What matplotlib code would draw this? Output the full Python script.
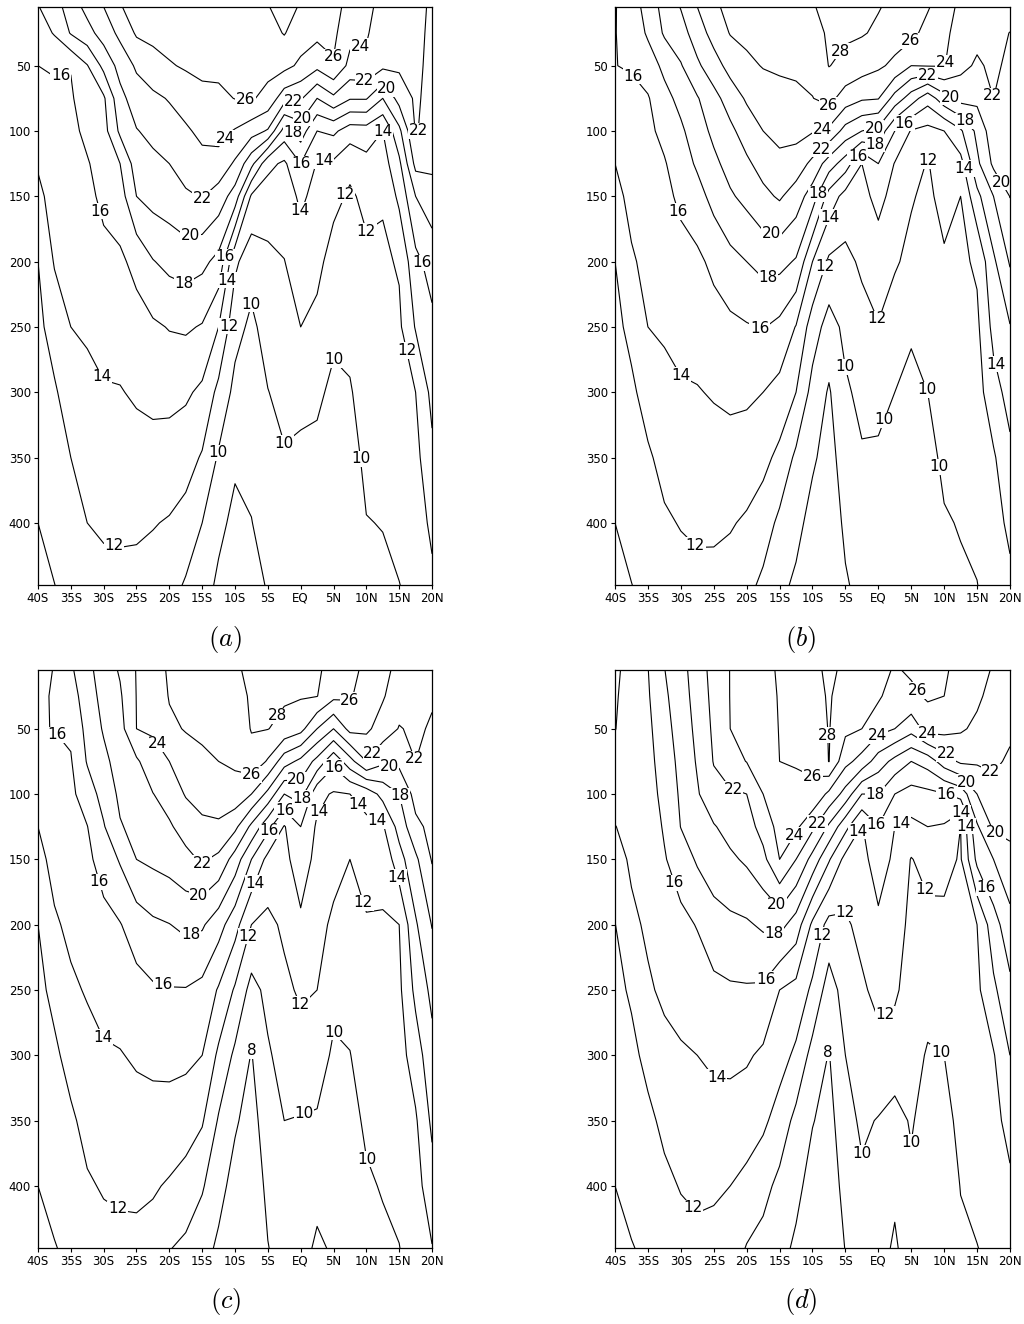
import numpy as np
import matplotlib
matplotlib.use("Agg")
import matplotlib.pyplot as plt

plt.rcParams['mathtext.fontset'] = 'cm'

# grid: latitude (deg, S negative) and depth (m)
lats = [-40, -37.5, -35, -32.5, -30, -27.5, -25, -22.5, -20, -17.5, -15, -12.5, -10,
        -7.5, -5, -2.5, 0, 2.5, 5, 7.5, 10, 12.5, 15, 17.5, 20]
depths = [5, 25, 50, 75, 100, 125, 150, 200, 250, 300, 350, 400, 450]
levels = [8, 10, 12, 14, 16, 18, 20, 22, 24, 26, 28]

xtick_vals = [-40, -35, -30, -25, -20, -15, -10, -5, 0, 5, 10, 15, 20]
xtick_names = ['40S', '35S', '30S', '25S', '20S', '15S', '10S', '5S', 'EQ', '5N', '10N', '15N', '20N']
ytick_vals = [50, 100, 150, 200, 250, 300, 350, 400]

# temperature profiles, one row per latitude (values at the depths above)
temp_a = [
    [17.9, 17.05, 16.0, 15.4, 14.8, 14.2, 13.5, 12.0, 11.5, 11.0, 10.5, 10.0, 9.5],
    [19.1, 18.15, 16.15, 15.7, 15.4, 15.1, 14.8, 14.15, 12.85, 11.75, 11.15, 10.55, 9.95],
    [21.0, 20.15, 16.1, 15.75, 15.5, 15.25, 15.0, 14.5, 14.0, 13.0, 12.0, 11.25, 10.5],
    [22.6, 21.3, 17.9, 17.15, 16.45, 15.85, 15.55, 14.9, 14.25, 13.5, 12.75, 12.0, 11.2],
    [24.0, 22.85, 20.55, 17.7, 17.25, 16.8, 16.4, 15.5, 14.65, 13.85, 13.05, 12.25, 11.45],
    [25.9, 24.5, 22.7, 21.4, 20.4, 18.0, 17.1, 15.65, 14.8, 13.9, 13.1, 12.3, 11.5],
    [26.6, 26.25, 24.3, 23.0, 21.9, 20.95, 20.0, 16.55, 15.25, 14.25, 13.25, 12.3, 11.4],
    [27.0, 26.45, 25.35, 23.55, 22.5, 21.55, 20.7, 17.9, 15.7, 14.5, 13.3, 12.1, 11.2],
    [27.3, 26.7, 25.85, 24.15, 23.05, 22.0, 21.05, 18.55, 16.1, 14.55, 13.15, 11.85, 10.7],
    [27.5, 26.9, 26.2, 24.95, 23.7, 22.75, 21.75, 18.9, 16.25, 14.3, 12.8, 11.3, 9.7],
    [27.6, 27.05, 26.4, 25.55, 24.5, 23.35, 22.1, 18.5, 15.85, 13.6, 11.8, 10.0, 9.0],
    [27.7, 27.15, 26.45, 25.6, 24.65, 23.3, 21.1, 17.4, 14.0, 11.45, 9.75, 8.6, 7.5],
    [27.8, 27.3, 26.7, 26.05, 23.85, 21.7, 19.1, 12.4, 10.65, 9.45, 8.4, 7.4, 6.5],
    [27.9, 27.4, 26.8, 26.2, 22.85, 18.6, 13.7, 10.75, 9.6, 9.05, 8.5, 7.95, 7.4],
    [27.95, 27.35, 26.6, 25.4, 21.8, 14.55, 13.0, 11.55, 10.75, 9.95, 9.35, 8.75, 8.1],
    [28.4, 28.1, 26.6, 22.85, 17.15, 13.65, 13.05, 11.95, 11.25, 10.55, 9.85, 9.2, 8.5],
    [27.9, 27.0, 25.6, 22.25, 19.05, 16.0, 14.35, 13.05, 12.0, 10.55, 9.6, 9.1, 8.6],
    [27.3, 26.55, 24.55, 20.0, 16.0, 13.85, 13.4, 12.5, 11.5, 10.3, 9.6, 9.0, 8.5],
    [26.7, 26.4, 25.85, 21.55, 16.4, 13.65, 12.5, 11.25, 10.35, 9.65, 9.15, 8.65, 8.15],
    [25.3, 24.65, 23.4, 20.15, 15.0, 12.45, 11.75, 11.15, 10.5, 9.85, 9.4, 8.9, 8.4],
    [24.4, 24.2, 23.6, 20.15, 15.1, 13.4, 12.4, 11.65, 11.2, 10.8, 10.35, 9.95, 9.6],
    [23.5, 22.95, 22.45, 18.0, 14.0, 13.1, 12.2, 11.65, 11.25, 10.85, 10.45, 10.05, 9.7],
    [23.2, 22.85, 22.35, 20.75, 17.5, 15.55, 14.45, 12.2, 11.65, 11.2, 10.8, 10.4, 9.95],
    [22.8, 22.65, 22.5, 22.3, 22.15, 20.6, 18.0, 15.45, 14.15, 12.0, 11.4, 10.9, 10.4],
    [21.6, 21.5, 21.4, 21.35, 21.2, 20.45, 19.1, 16.85, 15.5, 14.55, 13.55, 12.45, 11.5],
]

temp_b = [
    [15.9, 15.95, 15.98, 15.5, 14.75, 14.0, 13.35, 12.0, 11.5, 11.0, 10.5, 10.0, 9.5],
    [17.0, 16.6, 16.1, 15.7, 15.35, 14.95, 14.6, 13.75, 12.5, 11.65, 11.1, 10.5, 9.95],
    [18.8, 18.3, 16.95, 15.85, 15.6, 15.35, 15.05, 14.55, 14.0, 12.75, 11.75, 11.05, 10.4],
    [20.7, 20.25, 18.5, 17.35, 16.5, 15.85, 15.55, 14.9, 14.25, 13.45, 12.55, 11.75, 11.0],
    [22.1, 21.2, 19.85, 18.6, 17.65, 17.0, 16.35, 15.4, 14.6, 13.8, 12.95, 12.1, 11.3],
    [24.0, 23.0, 21.65, 19.85, 19.1, 18.3, 17.25, 15.6, 14.75, 13.9, 13.1, 12.3, 11.5],
    [25.6, 24.75, 23.15, 21.35, 20.45, 19.55, 18.65, 16.45, 15.2, 14.15, 13.25, 12.35, 11.4],
    [26.6, 26.1, 24.7, 22.9, 21.55, 20.7, 19.75, 17.4, 15.55, 14.4, 13.25, 12.15, 11.2],
    [27.0, 26.45, 25.6, 24.25, 22.9, 21.65, 20.55, 18.0, 15.85, 14.35, 13.05, 11.75, 10.5],
    [27.3, 26.75, 26.1, 25.05, 24.0, 22.75, 21.5, 18.65, 16.1, 14.0, 12.55, 11.0, 9.5],
    [27.5, 26.95, 26.25, 25.45, 24.55, 23.5, 22.25, 18.6, 15.5, 13.35, 11.5, 9.55, 8.45],
    [27.7, 27.1, 26.4, 25.55, 24.6, 23.1, 21.05, 17.8, 13.9, 12.0, 9.6, 8.6, 7.6],
    [27.9, 27.35, 26.65, 25.95, 24.15, 21.5, 19.0, 14.0, 11.0, 9.3, 8.3, 7.3, 6.4],
    [28.4, 28.25, 28.05, 26.65, 23.6, 19.0, 15.2, 11.65, 9.15, 7.8, 7.2, 6.7, 6.2],
    [28.5, 28.25, 27.55, 25.05, 21.25, 17.0, 13.25, 11.45, 10.5, 9.7, 9.05, 8.4, 7.75],
    [28.4, 28.15, 26.9, 24.25, 20.0, 14.0, 13.45, 12.35, 11.25, 10.5, 9.8, 9.2, 8.6],
    [28.1, 27.7, 26.3, 24.1, 19.45, 16.0, 14.55, 13.05, 11.9, 10.6, 9.7, 9.1, 8.5],
    [27.6, 26.85, 25.6, 21.25, 16.0, 13.9, 13.35, 12.2, 11.1, 10.0, 9.4, 8.8, 8.3],
    [27.2, 26.6, 24.0, 19.0, 13.85, 13.0, 12.15, 11.55, 10.2, 9.6, 9.1, 8.6, 8.1],
    [26.2, 25.25, 24.1, 16.8, 13.4, 11.85, 11.6, 11.05, 10.55, 10.0, 9.45, 8.9, 8.4],
    [24.8, 24.5, 24.1, 19.25, 14.0, 13.35, 12.65, 11.75, 11.3, 10.8, 10.35, 9.85, 9.4],
    [23.6, 23.1, 22.5, 20.75, 15.7, 13.3, 12.0, 11.6, 11.25, 10.85, 10.5, 10.1, 9.75],
    [23.0, 22.5, 21.75, 20.5, 18.5, 17.55, 15.45, 12.3, 11.6, 11.2, 10.8, 10.35, 9.95],
    [23.0, 22.7, 22.35, 22.0, 21.2, 20.4, 18.0, 15.65, 14.6, 13.25, 11.75, 11.2, 10.6],
    [23.0, 21.95, 21.6, 21.2, 20.8, 20.45, 20.05, 18.2, 15.9, 14.7, 13.55, 12.45, 11.5],
]

temp_c = [
    [15.85, 15.92, 15.95, 15.45, 14.7, 14.0, 13.4, 12.0, 11.5, 11.0, 10.5, 10.0, 9.6],
    [16.02, 16.04, 16.02, 15.75, 15.35, 15.0, 14.6, 13.75, 12.5, 11.65, 11.05, 10.45, 9.9],
    [17.7, 17.1, 16.35, 15.85, 15.55, 15.25, 15.0, 14.4, 13.7, 12.65, 11.7, 11.0, 10.3],
    [19.4, 19.05, 18.6, 18.15, 17.05, 15.95, 15.6, 14.85, 14.15, 13.4, 12.55, 11.8, 11.0],
    [21.0, 20.65, 20.2, 19.5, 18.7, 17.85, 16.75, 15.45, 14.6, 13.8, 12.95, 12.15, 11.4],
    [22.2, 21.75, 21.3, 20.85, 20.4, 19.85, 18.2, 15.9, 14.9, 13.9, 13.1, 12.3, 11.5],
    [24.1, 24.05, 24.0, 21.7, 21.15, 20.55, 20.0, 16.95, 15.35, 14.25, 13.25, 12.35, 11.5],
    [25.3, 24.85, 24.25, 23.25, 21.95, 21.15, 20.4, 17.65, 15.75, 14.45, 13.3, 12.2, 11.2],
    [26.2, 26.1, 25.7, 24.0, 22.85, 21.75, 20.8, 17.95, 15.9, 14.55, 13.2, 11.8, 10.0],
    [26.7, 26.45, 26.1, 25.25, 24.15, 22.8, 21.45, 18.45, 15.9, 14.45, 12.9, 11.25, 9.5],
    [27.1, 26.75, 26.3, 25.7, 24.7, 23.6, 22.25, 18.25, 15.45, 14.0, 12.2, 10.2, 8.7],
    [27.5, 27.05, 26.55, 26.0, 24.95, 23.7, 21.55, 16.8, 13.8, 11.6, 9.8, 8.65, 7.6],
    [27.8, 27.4, 26.85, 26.3, 25.25, 22.5, 19.1, 14.75, 11.75, 9.6, 8.25, 7.3, 6.4],
    [28.3, 28.2, 28.1, 27.35, 24.0, 19.55, 16.0, 12.0, 9.3, 7.9, 7.2, 6.6, 6.0],
    [28.5, 28.3, 28.05, 25.8, 21.45, 16.6, 13.4, 11.5, 10.55, 9.75, 9.15, 8.5, 7.9],
    [28.5, 28.25, 27.45, 22.85, 18.0, 13.85, 13.4, 12.35, 11.55, 10.75, 10.0, 9.4, 8.8],
    [28.4, 28.15, 26.65, 21.5, 18.8, 16.0, 15.15, 13.6, 12.3, 11.1, 9.9, 9.3, 8.7],
    [28.2, 28.05, 24.0, 19.4, 14.55, 13.7, 13.35, 12.7, 12.0, 10.9, 9.8, 8.65, 7.6],
    [27.5, 26.5, 22.0, 16.5, 13.8, 13.4, 12.75, 11.6, 10.55, 9.7, 9.2, 8.7, 8.2],
    [26.5, 26.2, 24.65, 19.25, 14.0, 13.0, 12.0, 11.3, 10.6, 9.95, 9.5, 9.0, 8.5],
    [25.6, 25.1, 24.4, 22.0, 14.75, 13.55, 12.85, 11.8, 11.3, 10.8, 10.25, 9.8, 9.4],
    [24.5, 24.2, 23.1, 20.4, 16.65, 13.75, 12.5, 11.85, 11.45, 11.05, 10.65, 10.1, 9.7],
    [23.5, 22.8, 21.9, 20.55, 18.0, 16.75, 15.2, 12.0, 11.6, 11.2, 10.8, 10.35, 9.95],
    [22.8, 22.55, 22.3, 22.0, 20.75, 19.5, 17.6, 15.75, 14.5, 13.0, 11.75, 11.2, 10.6],
    [22.5, 22.2, 21.8, 21.4, 20.95, 20.55, 20.15, 18.1, 16.5, 15.35, 14.4, 13.2, 11.85],
]

temp_d = [
    [16.2, 16.15, 16.05, 15.5, 14.75, 13.95, 13.25, 11.95, 11.5, 11.0, 10.5, 10.0, 9.5],
    [15.6, 15.4, 15.2, 15.0, 14.75, 14.55, 14.3, 13.6, 12.25, 11.55, 11.0, 10.45, 9.9],
    [15.95, 15.8, 15.55, 15.35, 15.15, 14.95, 14.75, 14.3, 13.75, 12.5, 11.6, 10.95, 10.25],
    [17.95, 17.65, 17.3, 16.95, 16.6, 16.2, 15.85, 15.1, 14.35, 13.45, 12.4, 11.6, 10.8],
    [19.3, 19.1, 18.85, 18.55, 18.3, 18.05, 16.95, 15.5, 14.65, 13.8, 12.95, 12.1, 11.3],
    [21.0, 20.8, 20.5, 20.2, 19.8, 19.05, 18.25, 16.1, 15.0, 14.0, 13.15, 12.35, 11.5],
    [22.7, 22.55, 22.35, 22.1, 21.35, 19.85, 19.05, 17.2, 15.5, 14.35, 13.3, 12.3, 11.3],
    [24.05, 24.05, 24.0, 23.35, 21.7, 20.7, 19.65, 17.55, 15.75, 14.45, 13.2, 12.0, 11.0],
    [24.7, 24.5, 24.25, 24.05, 22.0, 21.15, 20.3, 17.75, 15.8, 14.25, 12.9, 11.5, 9.8],
    [25.5, 25.2, 24.8, 24.4, 24.0, 22.75, 21.45, 18.3, 15.7, 13.65, 12.4, 10.6, 9.3],
    [26.2, 26.15, 26.1, 26.0, 25.4, 24.7, 24.0, 18.65, 14.0, 12.8, 11.15, 9.5, 8.6],
    [26.9, 26.7, 26.4, 26.15, 25.45, 24.4, 22.0, 17.1, 13.35, 11.6, 9.45, 8.55, 7.6],
    [27.6, 27.25, 26.8, 26.35, 25.6, 22.45, 19.3, 13.6, 11.6, 9.3, 8.1, 7.2, 6.3],
    [28.3, 28.2, 28.1, 28.05, 23.55, 19.65, 16.2, 11.35, 9.05, 7.9, 7.3, 6.8, 6.3],
    [27.7, 27.1, 26.45, 24.6, 21.25, 16.6, 13.35, 11.7, 10.85, 10.0, 9.35, 8.7, 8.05],
    [27.3, 26.7, 26.0, 23.25, 18.0, 13.85, 13.45, 12.55, 11.7, 11.0, 10.3, 9.7, 9.1],
    [26.7, 26.3, 24.7, 21.0, 18.0, 15.95, 14.85, 13.65, 12.55, 11.35, 9.9, 9.4, 8.9],
    [25.8, 25.0, 24.0, 19.4, 16.0, 14.0, 13.65, 13.0, 12.35, 10.9, 9.45, 8.5, 7.6],
    [26.3, 25.55, 22.75, 18.0, 15.25, 13.5, 11.9, 11.45, 11.0, 10.6, 10.15, 9.7, 9.3],
    [26.5, 26.25, 24.85, 18.85, 15.5, 14.0, 12.75, 11.4, 10.6, 9.85, 9.35, 8.85, 8.35],
    [26.2, 26.0, 24.7, 21.0, 15.9, 13.8, 12.65, 11.5, 10.75, 10.0, 9.5, 9.0, 8.5],
    [25.5, 24.95, 24.25, 22.35, 16.75, 12.0, 11.8, 11.45, 11.1, 10.75, 10.4, 10.05, 9.7],
    [24.8, 24.35, 23.6, 22.25, 20.0, 17.75, 16.5, 12.0, 11.6, 11.2, 10.8, 10.35, 9.95],
    [23.8, 23.35, 22.8, 22.3, 21.45, 20.35, 18.0, 15.15, 13.6, 11.85, 11.3, 10.8, 10.3],
    [23.2, 22.8, 22.3, 21.75, 21.05, 20.4, 19.5, 17.3, 15.5, 14.0, 12.75, 11.6, 10.8],
]

# where the contour labels sit (lat, depth)
labels_a = [(-36.7, 50), (-29.5, 160), (-30.5, 289), (-28.5, 419), (-14.9, 155),
            (-16.7, 183), (-17.6, 215), (-11.1, 107), (-8.4, 79), (-11.1, 197),
            (-11.6, 214), (-11.7, 249), (-6, 215), (-3.6, 165), (-9.2, 350),
            (-1.2, 353), (6, 250), (11, 350), (6, 147), (9, 184), (3.5, 121),
            (13.1, 100), (0.6, 127), (-1.6, 103), (0.0, 89), (-1.2, 76),
            (5.0, 44), (9.5, 40), (9.8, 60), (13.0, 68), (18.6, 100),
            (18.4, 201), (17, 267)]
labels_b = [(-38.4, 63), (-29.3, 160), (-30.3, 288), (-28.5, 421), (-18.2, 253),
            (-16.6, 215), (-16.6, 184), (-8.6, 114), (-8.3, 102), (-7.8, 86),
            (-3.7, 46), (-8.8, 149), (-5.3, 171), (-6.3, 207), (-7, 282),
            (0.8, 321), (-0.2, 244), (-0.7, 96), (-0.5, 111), (-2.7, 122),
            (4.1, 95), (5.3, 33), (7.4, 55), (10.3, 48), (11, 74), (13.8, 89),
            (7.6, 111), (10.9, 131), (16.7, 74), (18.4, 140), (17.5, 279),
            (8.4, 296), (10.9, 356)]
labels_c = [(-38.4, 60), (-30.5, 167), (-30.5, 287), (-28.5, 422), (-21.9, 62),
            (-15.3, 157), (-15.8, 182), (-16.6, 210), (-20.9, 246), (-7.7, 91),
            (-3.2, 41), (-2.2, 111), (-4.2, 130), (-0.6, 88), (0.6, 104),
            (-6.2, 170), (-6.4, 211), (-7.7, 290), (-1.1, 263), (0.4, 343),
            (6, 274), (11, 378), (3.6, 116), (5.0, 76), (6.5, 117), (10.3, 182),
            (7.7, 32), (10.3, 66), (13.3, 83), (16.8, 74), (14.6, 102), (12, 117),
            (15.1, 163)]
labels_d = [(-30.5, 167), (-24.5, 317), (-29.3, 422), (-21.7, 91), (-16.6, 244),
            (-15.9, 210), (-15.1, 183), (-12.3, 133), (-9.1, 123), (-10.3, 97),
            (-7.6, 55), (-7.8, 209), (-5.3, 184), (-7.8, 298), (-3.5, 127),
            (-0.5, 124), (-0.5, 101), (0, 56), (4.8, 25), (7.4, 56), (10.9, 65),
            (3.6, 124), (10.4, 99), (12.4, 112), (13.2, 125), (8.1, 171),
            (13.7, 90), (16.7, 87), (17.5, 133), (16.7, 171), (2.8, 279),
            (4.3, 370), (9.6, 297), (-2.7, 376)]

panels = [("a", temp_a, labels_a, [0.0371, 0.5582, 0.3848, 0.4366], (0.220, 0.505)),
          ("b", temp_b, labels_b, [0.6006, 0.5582, 0.3857, 0.4366], (0.782, 0.505)),
          ("c", temp_c, labels_c, [0.0371, 0.0574, 0.3848, 0.4366], (0.220, 0.0055)),
          ("d", temp_d, labels_d, [0.6006, 0.0574, 0.3857, 0.4366], (0.782, 0.0055))]

fig = plt.figure(figsize=(10.24, 13.24), dpi=100)

for name, temp, lab_pos, rect, txt_xy in panels:
    ax = fig.add_axes(rect)
    z = np.array(temp).T
    cs = ax.contour(lats, depths, z, levels=levels, colors='k', linewidths=0.8)
    texts = ax.clabel(cs, levels, manual=lab_pos, inline=False, fmt='%d',
                      fontsize=11)
    # GrADS style: upright labels that blank the line underneath
    for t in texts:
        t.set_rotation(0)
        t.set_bbox(dict(facecolor='white', edgecolor='none', pad=0.4))
        t.set_zorder(5)
    ax.set_xlim(-40, 20)
    ax.set_ylim(447.5, 5)
    ax.set_xticks(xtick_vals)
    ax.set_xticklabels(xtick_names)
    ax.set_yticks(ytick_vals)
    ax.tick_params(labelsize=8.5, length=3, width=0.8, pad=2)
    for s in ax.spines.values():
        s.set_linewidth(0.9)
        s.set_zorder(6)
    fig.text(txt_xy[0], txt_xy[1], r'$(%s)$' % name, fontsize=19,
             ha='center', va='bottom')

fig.savefig("out.png", dpi=100)
